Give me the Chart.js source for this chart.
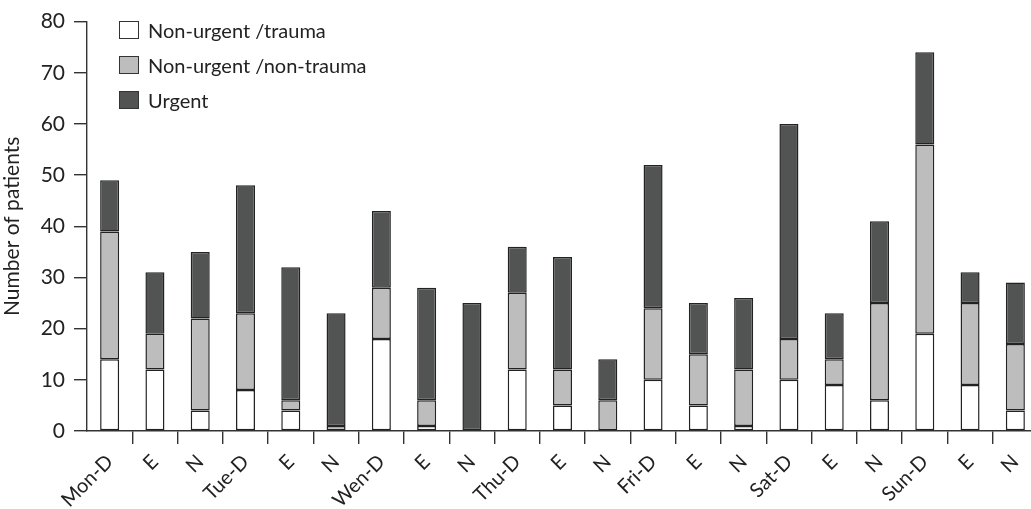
<!DOCTYPE html>
<html>
<head>
<meta charset="utf-8">
<script src="https://cdn.jsdelivr.net/npm/chart.js@4.4.0/dist/chart.umd.min.js"></script>
<style>
  html, body { margin: 0; padding: 0; background: #fff; overflow: hidden; }
  #wrap { position: relative; width: 1040px; height: 509px; }
  #legenda { position: absolute; left: 119px; top: 12px; font-family: Lato, "Open Sans", sans-serif; font-size: 20px; color: #222; }
  .item { display: flex; align-items: center; height: 35px; }
  .caixa { width: 18px; height: 16px; border: 1px solid #333; margin-right: 9px; }
</style>
</head>
<body>
<div id="wrap">
  <canvas id="grafico" width="1040" height="509"></canvas>
  <div id="legenda"></div>
</div>
<script>
var categorias = ["Mon-D", "E", "N", "Tue-D", "E", "N", "Wen-D", "E", "N", "Thu-D", "E", "N",
                  "Fri-D", "E", "N", "Sat-D", "E", "N", "Sun-D", "E", "N"];

var naoUrgenteTrauma    = [14, 12, 4, 8, 4, 0, 18, 1, 0, 12, 5, 0, 10, 5, 1, 10, 9, 6, 19, 9, 4];
var naoUrgenteNaoTrauma = [25, 7, 18, 15, 2, 1, 10, 5, 0, 15, 7, 6, 14, 10, 11, 8, 5, 19, 37, 16, 13];
var urgente             = [10, 12, 13, 25, 26, 22, 15, 22, 25, 9, 22, 8, 28, 10, 14, 42, 9, 16, 18, 6, 12];

var ticksY = [0, 10, 20, 30, 40, 50, 60, 70, 80];

var series = [
  { label: "Non-urgent /trauma", data: naoUrgenteTrauma, cor: "#ffffff" },
  { label: "Non-urgent /non-trauma", data: naoUrgenteNaoTrauma, cor: "#bdbdbd" },
  { label: "Urgent", data: urgente, cor: "#525453" },
];

var fonte = "Lato, 'Open Sans', sans-serif";

// legenda em html, dentro da area do grafico
var legenda = document.getElementById("legenda");
series.forEach(function (s) {
  var item = document.createElement("div");
  item.className = "item";
  item.innerHTML = '<span class="caixa" style="background:' + s.cor + '"></span><span>' + s.label + "</span>";
  legenda.appendChild(item);
});

const config = {
  type: "bar",
  data: {
    labels: categorias,
    datasets: series.map(function (s) {
      return {
        label: s.label,
        data: s.data,
        backgroundColor: s.cor,
        borderColor: "#222",
        borderWidth: 1.5,
        borderSkipped: false,
        barPercentage: 0.84,
        categoryPercentage: 0.5,
      };
    }),
  },
  options: {
    responsive: false,
    animation: { duration: 0 },
    layout: { padding: { top: 17, right: 2, left: 0, bottom: 0 } },
    plugins: {
      legend: { display: false },
      tooltip: { enabled: false },
    },
    scales: {
      x: {
        stacked: true,
        afterFit: function (scale) { scale.height = 78; },
        border: { display: true, color: "#333", width: 1.4 },
        grid: {
          offset: true,
          drawOnChartArea: false,
          tickLength: 13,
          lineWidth: 1.4,
          color: function (ctx) { return ctx.index === 0 ? "rgba(0,0,0,0)" : "#333"; },
        },
        ticks: {
          autoSkip: false,
          maxRotation: 45,
          minRotation: 45,
          padding: 6,
          color: "#222",
          font: { family: fonte, size: 20 },
        },
      },
      y: {
        stacked: true,
        min: 0,
        max: 80,
        afterFit: function (scale) { scale.width = 87; },
        afterBuildTicks: function (scale) {
          scale.ticks = ticksY.map(function (v) { return { value: v }; });
        },
        border: { display: true, color: "#333", width: 1.4 },
        grid: { drawOnChartArea: false, tickLength: 13, lineWidth: 1.4, color: "#333" },
        ticks: {
          padding: 9,
          color: "#222",
          font: { family: fonte, size: 21 },
        },
        title: {
          display: true,
          text: "Number of patients",
          color: "#222",
          font: { family: fonte, size: 21 },
          padding: { top: 0, bottom: 2 },
        },
      },
    },
  },
};

var grafico = new Chart(document.getElementById("grafico"), config);
</script>
</body>
</html>
